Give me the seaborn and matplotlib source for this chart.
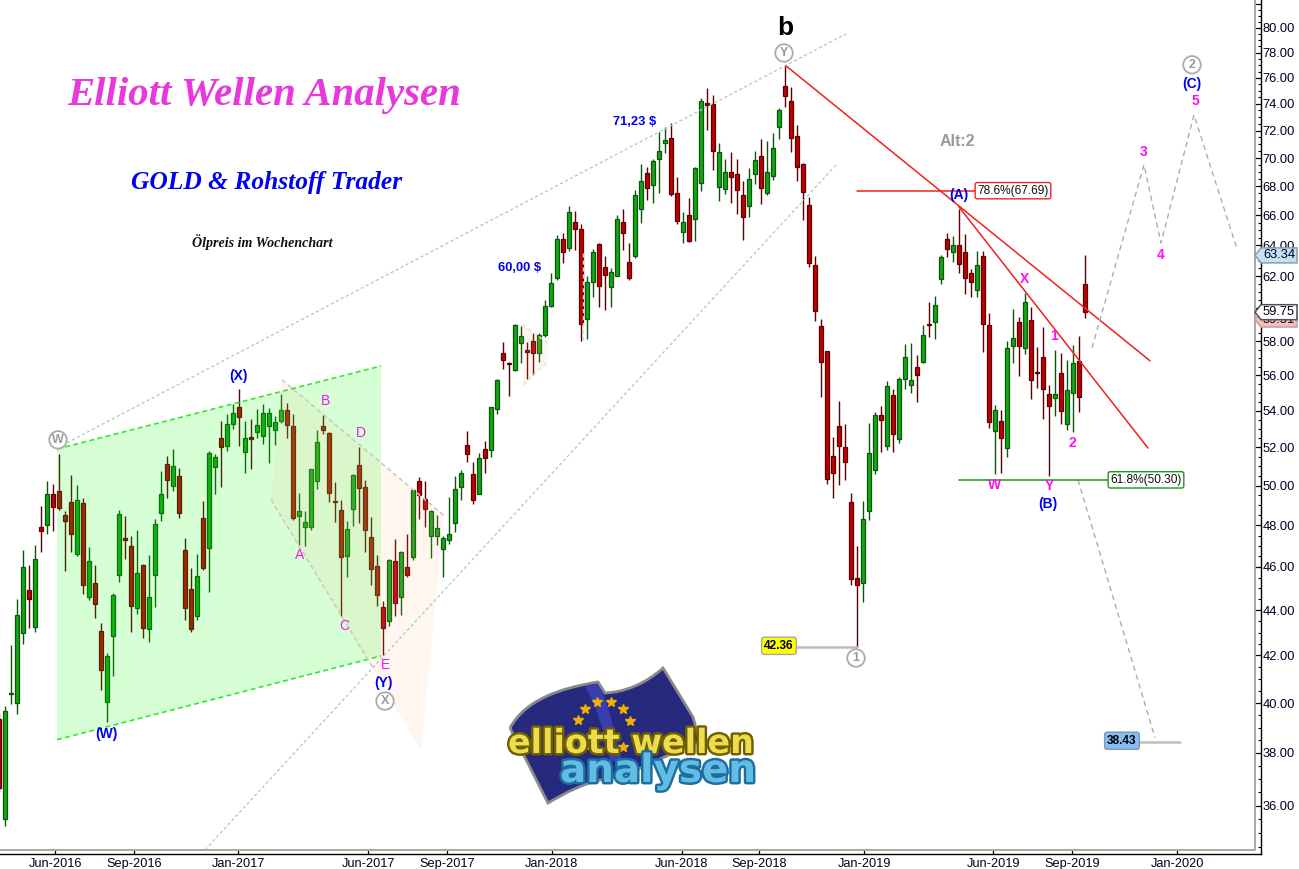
import numpy as np
import pandas as pd
import seaborn as sns
import matplotlib
matplotlib.use("Agg")
import matplotlib.pyplot as plt
from matplotlib.ticker import MultipleLocator, FuncFormatter, FixedLocator, NullLocator
from matplotlib.patches import Polygon, PathPatch
from matplotlib.path import Path
from matplotlib.lines import Line2D
from matplotlib.transforms import IdentityTransform
import matplotlib.patheffects as pe

# ---------- weekly candles ----------
opens = [
 39.35,35.51,40.37,40.01,42.98,44.94,43.24,47.91,48.04,49.57,
 49.72,48.51,49.16,46.59,49.11,44.58,45.25,43.07,40.06,42.83,
 45.60,47.40,46.99,44.12,46.08,43.14,45.60,48.64,51.12,50.00,
 50.49,46.80,44.97,43.76,48.36,46.88,50.96,52.50,52.10,53.29,
 54.19,51.78,52.55,52.86,52.61,53.15,52.93,53.46,54.02,53.15,
 48.46,47.91,47.91,50.23,53.15,52.77,49.21,48.76,46.50,48.81,
 51.07,49.92,47.43,46.03,44.13,43.51,46.27,44.60,45.98,46.47,
 50.23,49.31,47.48,47.48,46.85,47.29,48.11,49.92,52.12,50.59,
 49.57,51.90,51.88,54.08,57.28,56.72,56.33,57.86,57.46,57.99,
 57.32,58.39,60.16,61.91,64.39,63.85,65.53,65.07,59.31,61.62,
 64.07,62.57,61.34,62.03,65.53,62.93,63.28,66.41,68.92,68.12,
 69.95,71.11,71.44,67.52,64.91,66.00,65.78,68.21,74.05,73.97,
 67.98,67.79,68.99,68.85,67.38,66.62,68.89,70.12,67.52,68.75,
 72.25,75.36,74.20,71.61,69.55,66.69,62.70,58.90,57.40,51.54,
 53.16,52.01,49.16,45.48,45.23,48.70,50.80,53.75,52.10,54.87,
 52.44,55.77,55.44,56.47,56.76,59.02,59.14,61.80,64.39,63.57,
 64.00,63.55,62.19,61.11,63.29,58.96,52.88,53.43,51.96,57.70,
 59.15,57.58,59.27,56.18,57.05,54.93,54.70,56.12,53.26,54.98,
 56.82,61.49]
highs = [
 39.60,39.88,42.45,44.50,46.82,46.08,47.04,48.98,50.23,50.09,
 51.66,48.71,50.54,50.02,49.36,46.95,46.08,43.42,42.10,44.78,
 48.78,48.48,47.50,47.78,46.14,46.56,48.34,50.75,51.55,51.90,
 50.91,47.40,45.95,46.63,49.23,51.82,51.66,53.44,53.82,54.36,
 55.23,53.46,53.53,54.08,54.38,54.15,53.70,54.94,54.43,53.82,
 49.62,48.73,50.89,52.95,53.76,52.82,50.19,49.28,48.21,50.58,
 52.01,50.30,48.43,46.58,44.43,46.37,47.35,46.77,47.59,49.82,
 50.44,50.24,48.78,48.51,47.50,49.43,50.49,50.82,52.90,51.24,
 51.70,52.34,54.23,55.79,57.93,56.78,59.02,58.92,57.95,58.47,
 58.47,60.49,62.19,64.71,64.84,66.62,66.26,65.42,62.01,63.74,
 64.13,63.32,62.51,66.02,66.41,64.13,67.75,69.58,69.36,69.93,
 71.87,72.25,72.54,68.66,66.20,67.20,69.36,74.45,75.23,74.69,
 71.09,69.93,70.44,69.93,68.38,69.29,70.51,71.38,71.23,71.82,
 73.70,76.95,75.31,72.41,69.65,67.26,63.31,59.33,57.40,52.55,
 54.55,53.27,49.61,47.01,49.21,53.33,53.92,54.27,55.66,55.20,
 55.89,57.81,57.87,57.17,58.96,60.36,60.76,63.36,64.78,64.61,
 66.41,64.73,62.47,63.63,63.63,59.69,54.31,54.04,57.99,59.93,
 59.45,60.93,60.07,57.66,58.86,55.44,57.48,57.29,56.88,57.77,
 58.30,63.34]
lows = [
 36.50,35.24,39.96,39.56,42.48,43.21,43.01,46.72,47.59,47.75,
 48.78,45.81,46.69,46.53,44.75,44.47,43.66,40.55,39.21,41.11,
 45.31,46.39,43.01,43.83,42.74,42.57,44.16,48.24,49.35,49.75,
 48.38,43.57,43.01,43.54,45.86,44.81,49.58,49.95,51.83,53.00,
 52.08,50.68,50.89,52.53,52.19,51.20,52.12,53.35,52.52,48.29,
 47.05,47.00,47.80,49.85,52.70,49.19,48.18,43.74,45.51,47.99,
 48.14,46.72,45.17,44.21,42.02,43.30,43.74,43.79,45.54,46.34,
 48.33,47.91,46.43,47.04,45.54,47.10,47.67,49.28,51.21,49.08,
 49.57,50.68,51.52,53.83,56.37,54.80,56.27,56.74,55.79,56.02,
 56.78,58.27,60.10,61.76,62.82,63.64,63.66,58.03,58.15,60.72,
 60.10,59.89,60.10,62.01,63.66,61.78,63.14,65.51,67.06,66.87,
 67.56,70.39,67.33,65.44,64.17,64.22,64.30,67.68,72.04,69.15,
 67.01,67.47,66.87,66.09,64.35,65.91,68.16,66.78,67.40,68.44,
 71.38,73.80,70.46,68.38,65.69,62.59,59.24,54.79,50.09,49.38,
 50.03,50.30,45.13,42.36,44.35,48.28,50.61,51.77,51.84,51.77,
 52.26,55.23,55.02,54.50,56.74,58.27,58.15,61.51,63.22,62.93,
 62.23,60.89,60.66,60.66,57.33,53.03,50.58,50.68,51.47,56.74,
 55.96,57.25,54.68,55.29,53.57,50.52,53.72,53.25,52.92,52.81,
 53.93,59.37]
closes = [
 36.65,39.67,40.41,43.77,45.98,44.53,46.37,47.75,49.57,48.91,
 48.85,48.24,47.56,49.26,45.14,46.27,44.26,41.36,41.98,44.69,
 48.56,47.27,44.21,45.71,43.19,44.60,48.06,49.57,50.31,51.01,
 48.64,44.12,43.14,45.57,45.97,51.69,51.48,52.01,53.26,53.85,
 53.68,52.50,52.44,53.20,53.85,53.85,53.37,54.02,53.20,48.39,
 48.71,48.16,50.86,52.28,52.93,49.62,49.16,46.47,47.82,50.54,
 49.87,47.77,45.89,44.67,43.20,46.32,44.32,46.71,45.61,49.77,
 49.52,48.81,48.71,47.86,47.38,47.58,49.82,50.64,51.63,49.25,
 51.43,51.46,54.20,55.72,56.86,56.63,58.96,58.30,57.34,57.32,
 58.35,60.12,61.55,64.39,63.57,66.20,65.05,59.00,61.62,63.57,
 61.41,62.10,62.25,65.73,64.84,61.91,67.38,68.35,67.91,69.76,
 70.49,71.28,67.43,65.64,65.53,64.30,69.27,74.20,73.88,70.53,
 70.41,68.99,68.63,67.72,65.87,68.49,69.84,67.86,68.99,70.71,
 73.52,74.58,71.44,69.34,67.59,62.83,59.85,56.80,50.37,50.68,
 52.10,51.21,45.41,45.13,48.31,51.70,53.75,53.51,55.37,52.70,
 55.77,57.05,55.72,56.00,58.35,58.94,60.18,63.22,63.74,64.00,
 62.77,61.86,61.66,62.70,59.02,53.37,54.02,52.50,57.58,58.17,
 57.70,60.37,55.72,56.12,55.21,54.25,54.93,53.97,55.15,56.70,
 54.79,59.75]

# ---------- axis ----------
date_labels = ["Jun-2016","Sep-2016","Jan-2017","Jun-2017","Sep-2017","Jan-2018",
               "Jun-2018","Sep-2018","Jan-2019","Jun-2019","Sep-2019","Jan-2020"]
date_pos = [9.33,22.5,39.83,61.5,74.67,92.06,113.73,126.67,144.17,165.67,178.83,196.33]

# ---------- drawing objects (bar position, price) ----------
upper_channel = ([9.61,141.1],[51.97,79.51])
lower_channel = ([34.28,139.78],[34.40,69.65])
green_zone = [(9.61,51.92),(63.61,56.54),(63.61,41.98),(9.61,38.52)]
peach_zone = [(47.11,55.74),(74.11,48.49),(70.28,38.12),(45.28,49.29)]
peach_small = [(87.11,58.98),(91.44,57.90),(91.28,56.73),(87.28,55.46)]
red_lines = [([131.11,191.78],[76.95,56.84]),([159.94,191.44],[66.57,51.97]),([142.94,162.61],[67.69,67.69])]
forecast_up = ([182.11,190.78,193.61,199.11,206.28],[57.6,69.51,64.15,73.17,63.76])
forecast_down = ([179.78,192.61],[50.30,38.6])

circle_labels = [("W",9.78,52.41),("Y",130.78,77.97),("X",64.28,40.08),("1",142.78,41.89),("2",198.78,77.03)]
blue_labels = [("(W)",17.78,38.76),("(X)",39.78,55.97),("(Y)",64.11,40.84),("(A)",159.94,67.39),("(B)",174.78,49.08),("(C)",198.78,75.5)]
pink_regular = [("A",50.11,46.57),("B",54.28,54.55),("C",57.44,43.3),("D",60.28,52.8),("E",64.28,41.6)]
pink_bold = [("X",170.94,61.8),("1",175.78,58.3),("2",178.78,52.25),("W",165.94,50.04),("Y",174.94,49.99),
             ("3",190.78,70.44),("4",193.61,63.35),("5",199.28,74.2)]

W, H = 1299, 869
sns.set_theme(style="white", rc={"font.family": "Liberation Sans"})
fig = plt.figure(figsize=(W/100, H/100), dpi=100, facecolor="white")
ax = fig.add_axes([0, (H-854)/H, 1261/W, 854/H])

df = pd.DataFrame({"bar": np.arange(len(opens)), "o": opens, "h": highs, "l": lows, "c": closes})
df["up"] = df.c >= df.o
df["bot"] = df[["o","c"]].min(axis=1)
df["body"] = (df.c - df.o).abs()

DG, DR = "#0B560B", "#5A0000"
ax.vlines(df.bar, df.l, df.h, colors=np.where(df.up, DG, DR), linewidth=1.0, zorder=2)
for up, fill, edge in [(True, "#14A614", DG), (False, "#C00000", DR)]:
    sub = df[df.up == up]
    sns.barplot(data=sub, x="bar", y="body", native_scale=True, width=0.7, color=fill,
                saturation=1, edgecolor=edge, linewidth=0.9, errorbar=None,
                bottom=sub["bot"].values, ax=ax, zorder=3)

# overlays sit on top of the candles, tinting them
ax.add_patch(Polygon(green_zone, closed=True, fc=(0,1,0,0.16), ec="none", zorder=4))
ax.add_patch(Polygon(peach_zone, closed=True, fc=(1,0.72,0.5,0.12), ec="none", zorder=4))
ax.add_patch(Polygon(peach_small, closed=True, fc=(1,0.72,0.5,0.12), ec="none", zorder=4))

dash = (0, (3, 2))
ax.plot([green_zone[0][0],green_zone[1][0]],[green_zone[0][1],green_zone[1][1]],color="#33E833",lw=1.2,ls=dash,zorder=5)
ax.plot([green_zone[3][0],green_zone[2][0]],[green_zone[3][1],green_zone[2][1]],color="#33E833",lw=1.2,ls=dash,zorder=5)
for xs, ys in [upper_channel, lower_channel]:
    ax.plot(xs, ys, color="#A6CDB8", lw=0.9, ls=(0,(2.5,2)), zorder=5)
gl = dict(color="#C8C8C8", lw=1.1, ls=(0,(3,2)), zorder=5)
ax.plot([peach_zone[0][0],peach_zone[1][0]],[peach_zone[0][1],peach_zone[1][1]],**gl)
ax.plot([peach_zone[3][0],62.28],[peach_zone[3][1],41.47],**gl)
ax.plot([peach_small[0][0],peach_small[1][0]],[peach_small[0][1],peach_small[1][1]],color="#E8DCD4",lw=1,ls=dash,zorder=5)
ax.plot([peach_small[3][0],peach_small[2][0]],[peach_small[3][1],peach_small[2][1]],color="#E8DCD4",lw=1,ls=dash,zorder=5)
ax.plot([97.28,97.28],[63.5,58.07],color="#D8D8D8",lw=1,ls=dash,zorder=5)

for xs, ys in red_lines:
    ax.plot(xs, ys, color="#F02020", lw=1.1, zorder=6)
ax.plot(*forecast_up, color="#AAAAAA", lw=0.95, ls=(0,(4,3)), zorder=6)
ax.plot(*forecast_down, color="#AAAAAA", lw=0.95, ls=(0,(4,3)), zorder=6)
ax.plot([159.94,184.78],[50.30,50.30], color="#159A15", lw=1.1, zorder=6)
ax.plot([132.94,143],[42.36,42.36], color="#BDBDBD", lw=1.8, zorder=2)
ax.plot([190.11,196.78],[38.43,38.43], color="#BDBDBD", lw=1.8, zorder=6)

ax.set_yscale("log", base=2)
ax.set_xlim(0.11, 210.28)
ax.set_ylim(34.255, 82.33)
ax.set_xlabel(""); ax.set_ylabel("")
ax.set_facecolor("white")

for s in ["top","left"]:
    ax.spines[s].set_visible(False)
for s in ["right","bottom"]:
    ax.spines[s].set_visible(True)
    ax.spines[s].set_color("black")
    ax.spines[s].set_linewidth(1.0)

ax.yaxis.tick_right()
ax.yaxis.set_major_locator(MultipleLocator(2))
ax.yaxis.set_minor_locator(MultipleLocator(0.5))
ax.yaxis.set_major_formatter(FuncFormatter(lambda v, _: f"{v:.2f}" if 35 < v < 81 else ""))
ax.yaxis.set_minor_formatter(FuncFormatter(lambda v, _: ""))
ax.tick_params(axis="y", which="major", direction="in", length=4.6, width=0.9, color="black",
               labelsize=9.3, pad=1.0, labelcolor="#000020", right=True, left=False)
ax.tick_params(axis="y", which="minor", direction="in", length=2.4, width=0.8, color="black", right=True, left=False)
ax.xaxis.set_major_locator(FixedLocator(date_pos))
ax.xaxis.set_minor_locator(NullLocator())
ax.set_xticklabels(date_labels)
ax.tick_params(axis="x", which="major", direction="in", length=3.0, width=0.9, color="black",
               labelsize=9.2, pad=3.0, labelcolor="#000020", bottom=True)

# ---------- wave labels ----------
for t, x, y in circle_labels:
    ax.text(x, y, t, ha="center", va="center", color="#9A9A9A", fontsize=9, fontweight="bold", zorder=8,
            bbox=dict(boxstyle="circle,pad=0.22", fc="white", ec="#ABABAB", lw=1.3))
for t, x, y in blue_labels:
    ax.text(x, y, t, ha="center", va="center", color="#0000EE", fontsize=10, fontweight="bold", zorder=8)
for t, x, y in pink_regular:
    ax.text(x, y, t, ha="center", va="center", color="#FF10F0", fontsize=10, zorder=8)
for t, x, y in pink_bold:
    ax.text(x, y, t, ha="center", va="center", color="#FF10F0", fontsize=10, fontweight="bold", zorder=8)
ax.text(130.94, 80.0, "b", ha="center", va="center", color="black", fontsize=19, fontweight="bold", zorder=8)
ax.text(105.86, 72.65, "71,23 $", ha="center", va="center", color="#0000EE", fontsize=9.3, fontweight="bold", zorder=8)
ax.text(86.7, 62.5, "60,00 $", ha="center", va="center", color="#0000EE", fontsize=9.3, fontweight="bold", zorder=8)
ax.text(159.61, 71.17, "Alt:2", ha="center", va="center", color="#999999", fontsize=11.5, fontweight="bold", zorder=8)

ax.text(168.94, 67.69, "78.6%(67.69)", ha="center", va="center", fontsize=8.6, color="#101010", zorder=8,
        bbox=dict(boxstyle="round,pad=0.18", fc="white", ec="#F02020", lw=1))
ax.text(191.11, 50.30, "61.8%(50.30)", ha="center", va="center", fontsize=8.6, color="#101010", zorder=8,
        bbox=dict(boxstyle="round,pad=0.18", fc="white", ec="#159A15", lw=1))
ax.text(129.94, 42.42, "42.36", ha="center", va="center", fontsize=8.6, fontweight="bold", color="black", zorder=8,
        bbox=dict(boxstyle="round,pad=0.22", fc="#FFFF00", ec="#A8A8A0", lw=1))
ax.text(187.11, 38.48, "38.43", ha="center", va="center", fontsize=8.6, fontweight="bold", color="black", zorder=8,
        bbox=dict(boxstyle="round,pad=0.22", fc="#86BDF2", ec="#8098A8", lw=1))

# ---------- titles ----------
serif = "Liberation Serif"
fig.text(264/W, 1-96/H, "Elliott Wellen Analysen", ha="center", va="center", family=serif, style="italic",
         weight="bold", fontsize=29.3, color="#E838DC")
fig.text(267/W, 1-183/H, "GOLD & Rohstoff Trader", ha="center", va="center", family=serif, style="italic",
         weight="bold", fontsize=18.4, color="#0000EE")
fig.text(262/W, 1-242/H, "Ölpreis im Wochenchart", ha="center", va="center", family=serif, style="italic",
         weight="bold", fontsize=10.1, color="#101010")

# ---------- pixel-placed furniture (inner frame, price tags, logo) ----------
I = IdentityTransform()
def P(x, y):
    return (x, H - y)

fig.add_artist(Line2D([0,1254.5,1254.5],[H-849.7,H-849.7,H],transform=I,color="#A8A89C",lw=1.4,zorder=1))

def yof(price):
    return H - ax.transData.transform((1, price))[1]

def tag(price, text, fc, ec, z):
    y = yof(price)
    pts = [P(1255,y),P(1261,y-7.5),P(1297,y-7.5),P(1297,y+7.5),P(1261,y+7.5)]
    fig.add_artist(Polygon(pts, closed=True, fc=fc, ec=ec, lw=1.1, transform=I, zorder=z))
    fig.text(1263/W, 1-y/H, text, ha="left", va="center", fontsize=9.3, color="#000020", zorder=z+0.1)

tag(59.30, "59.51", "#F6BDBD", "#C8A0A0", 2)
tag(59.75, "59.75", "white", "#505050", 3)
tag(63.34, "63.34", "#C4E2F6", "#8C9CA8", 3)

# logo
def curve(*segments):
    verts, codes = [], []
    for seg in segments:
        verts += [P(*q) for q in seg[1]]
        codes += [seg[0]] * len(seg[1])
    return Path(verts, codes)

flag = curve((Path.MOVETO,[(510,728)]),
             (Path.CURVE4,[(525,700),(560,688),(598,682)]),
             (Path.LINETO,[(605,693)]),
             (Path.CURVE4,[(625,692),(645,684),(663,668)]),
             (Path.LINETO,[(693,717),(700,742)]),
             (Path.CURVE4,[(670,752),(640,772),(610,778)]),
             (Path.CURVE4,[(585,782),(565,793),(548,803)]),
             (Path.LINETO,[(510,728)]))
fig.add_artist(PathPatch(flag, fc="#27297E", ec="#8A8A8A", lw=2, transform=I, zorder=4))
fold = curve((Path.MOVETO,[(596,684)]),
             (Path.CURVE4,[(606,690),(612,725),(622,760)]),
             (Path.LINETO,[(610,762)]),
             (Path.CURVE4,[(604,730),(596,705),(585,686)]),
             (Path.LINETO,[(596,684)]))
fig.add_artist(PathPatch(fold, fc="#3A3EB0", ec="none", transform=I, zorder=4.1))
star_px = [(585,709),(597,702),(611,702),(623,709),(630,721),(623,747),(578,720),(585,745)]
fig.add_artist(Line2D([p[0] for p in star_px],[H-p[1] for p in star_px],transform=I,ls="none",
                      marker="*",ms=7,mfc="#F0B000",mec="#F0B000",zorder=4.2))
fig.text(508/W, 1-753/H, "elliott wellen", ha="left", va="baseline", family="DejaVu Sans", weight="bold",
         fontsize=24, color="#EEDC4C", zorder=5,
         path_effects=[pe.withStroke(linewidth=3.5, foreground="#6E5F00")])
fig.text(560/W, 1-782/H, "analysen", ha="left", va="baseline", family="DejaVu Sans", weight="bold",
         fontsize=28, color="#62BCE4", zorder=6,
         path_effects=[pe.withStroke(linewidth=3.5, foreground="#1C6EA0")])

fig.savefig("out.png", dpi=100, facecolor="white")
